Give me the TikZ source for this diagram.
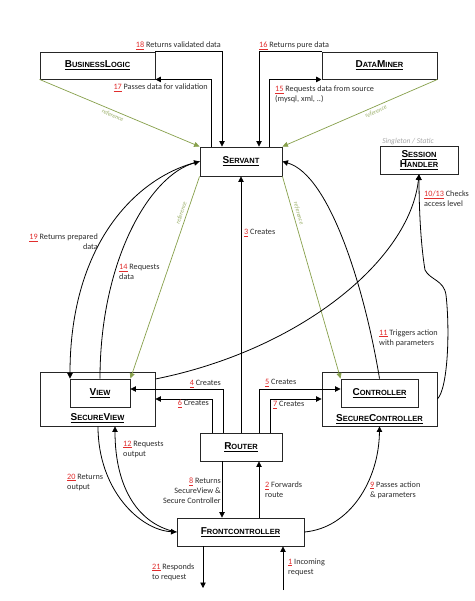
\documentclass[tikz,border=0pt]{standalone}
\usepackage{fontspec}
\setmainfont{Carlito}
\newfontfamily\titlefont{Liberation Sans}
\usetikzlibrary{arrows.meta,calc}
\definecolor{refgreen}{RGB}{135,160,75}
\definecolor{numred}{RGB}{225,45,45}
\definecolor{txt}{RGB}{45,45,45}
\newcommand{\nm}[1]{\textcolor{numred}{\underline{#1}}}
\newcommand{\Bg}[1]{{\fontsize{10}{10}\selectfont #1}}
\begin{document}
\begin{tikzpicture}[x=1pt,y=-1pt,
  box/.style={draw=black!85, line width=0.9pt, fill=white, inner sep=0pt,
    font=\titlefont\bfseries\fontsize{7.5}{10.5}\selectfont},
  ttl/.style={font=\titlefont\bfseries\fontsize{7.5}{8}\selectfont, inner sep=0pt},
  arr/.style={draw=black, line width=0.8pt, -{Triangle[length=5.5pt,width=5.5pt]}},
  ln/.style={draw=black, line width=0.8pt},
  refarr/.style={draw=refgreen, line width=0.7pt, -{Triangle[length=5.5pt,width=5pt]}},
  reflbl/.style={font=\itshape\fontsize{6}{6}\selectfont, text=refgreen!85, inner sep=2.5pt, sloped},
  lbl/.style={font=\fontsize{8.2}{10}\selectfont, text=txt, inner sep=0pt},
]
\fill[white] (0,0) rectangle (474,601);
\useasboundingbox (0,0) rectangle (474,601);

% boxes
\node[box, minimum width=115pt, minimum height=27pt] (bl) at (97.5,65.5) {\underline{\Bg{B}USINESS\Bg{L}OGIC}};
\node[box, minimum width=115pt, minimum height=27pt] (dm) at (379.5,65.5) {\underline{\Bg{D}ATA\Bg{M}INER}};
\node[box, minimum width=82pt, minimum height=29pt] (servant) at (241,161.5) {\underline{\Bg{S}ERVANT}};
\node[box, minimum width=78pt, minimum height=28pt, align=center] (sh) at (419,160) {\underline{\Bg{S}ESSION}\\\underline{\Bg{H}ANDLER}};
\node[font=\itshape\fontsize{7.5}{8}\selectfont, text=black!35, inner sep=0pt] (single) at (408,141.5) {Singleton / Static};

\node[box, minimum width=115pt, minimum height=54pt] (sv) at (97.5,399) {};
\node[box, minimum width=60pt, minimum height=28pt] (view) at (100,393) {\underline{\Bg{V}IEW}};
\node[ttl] (svt) at (97.5,418) {\underline{\Bg{S}ECURE\Bg{V}IEW}};

\node[box, minimum width=115pt, minimum height=54pt] (sc) at (379.5,399) {};
\node[box, minimum width=77pt, minimum height=28pt] (ctrl) at (379.5,393) {\underline{\Bg{C}ONTROLLER}};
\node[ttl] (sct) at (379.5,419) {\underline{\Bg{S}ECURE\Bg{C}ONTROLLER}};

\node[box, minimum width=82pt, minimum height=28pt] (router) at (241,447) {\underline{\Bg{R}OUTER}};
\node[box, minimum width=127pt, minimum height=28pt] (fc) at (240.5,532) {\underline{\Bg{F}RONTCONTROLLER}};

% top connectors
\draw[arr] (bl.north east) -| ([xshift=-19pt]servant.north);
\draw[arr] ([xshift=-30pt]servant.north) |- (bl.south east);
\draw[arr] (dm.north west) -| ([xshift=18pt]servant.north);
\draw[arr] ([xshift=28pt]servant.north) |- (dm.south west);

% references
\draw[refarr] (bl.south west) -- node[reflbl, pos=0.47, below] {reference} (servant.north west);
\draw[refarr] (dm.south east) -- node[reflbl, pos=0.41, below] {reference} (servant.north east);
\draw[refarr] (servant.south west) -- node[reflbl, pos=0.19, above] {reference} (view.north east);
\draw[refarr] (servant.south east) -- node[reflbl, pos=0.19, above] {reference} (ctrl.north west);

% router
\draw[arr] (router.north) -- (servant.south);
\draw[arr] ([xshift=-18pt]router.north) |- ([yshift=4pt]view.east);
\draw[arr] ([xshift=-29pt]router.north) |- (sv.east);
\draw[arr] ([xshift=18pt]router.north) |- ([yshift=4pt]ctrl.west);
\draw[arr] ([xshift=29pt]router.north) |- (sc.west);
\coordinate (r8) at ([xshift=-19pt]router.south);
\coordinate (r2) at ([xshift=18pt]router.south);
\draw[arr] (r8) -- (r8 |- fc.north);
\draw[arr] (r2 |- fc.north) -- (r2);

% frontcontroller in/out
\coordinate (in1) at (283,590);
\coordinate (out21) at (203,588);
\draw[arr] (in1) -- (in1 |- fc.south);
\draw[arr] (out21 |- fc.south) -- (out21);

% view <-> servant
\draw[arr] (servant.west) .. controls (140,175) and (70,240) .. ([xshift=-30pt]view.north);
\draw[arr] (view.north) .. controls (100,260) and (150,175) .. (servant.west);

% view <-> frontcontroller
\draw[arr] ([xshift=0.5pt]sv.south) .. controls (98,490) and (140,530) .. (fc.west);
\draw[arr] (fc.west) .. controls (140,525) and (115,490) .. ([xshift=17.5pt]sv.south);

% frontcontroller -> securecontroller
\draw[arr] (fc.east) .. controls (350,528) and (379,480) .. (sc.south);

% controller -> servant
\draw[arr] (ctrl.north) .. controls (365,290) and (330,175) .. (servant.east);

% session handler
\draw[arr] ([yshift=20pt]sv.east) .. controls (300,350) and (410,260) .. (sh.south);
\draw[arr] (sc.east) .. controls (448,388) and (450,330) .. (446,295)
  .. controls (444,280) and (430,280) .. (425,270)
  .. controls (420,240) and (419,200) .. (sh.south);

% labels
\node[lbl, anchor=east] (l18) at (221,46) {\nm{18} Returns validated data};
\node[lbl, anchor=east] (l17) at (208,88) {\nm{17} Passes data for validation};
\node[lbl, anchor=west] (l16) at (259,46) {\nm{16} Returns pure data};
\node[lbl, anchor=north west, align=left] (l15) at (275,86) {\nm{15} Requests data from source\\(mysql, xml, ..)};
\node[lbl, anchor=west] (l3) at (244,233) {\nm{3} Creates};
\node[lbl, anchor=east, align=right] (l19) at (98,242) {\nm{19} Returns prepared\\data};
\node[lbl, anchor=west, align=left] (l14) at (119,272) {\nm{14} Requests\\data};
\node[lbl, anchor=west, align=left] (l1013) at (424,199) {\nm{10/13} Checks\\access level};
\node[lbl, anchor=west, align=left] (l11) at (379,338) {\nm{11} Triggers action\\with parameters};
\node[lbl, anchor=east] (l4) at (221,384) {\nm{4} Creates};
\node[lbl, anchor=east] (l6) at (209,404) {\nm{6} Creates};
\node[lbl, anchor=west] (l5) at (265,383) {\nm{5} Creates};
\node[lbl, anchor=west] (l7) at (273,405) {\nm{7} Creates};
\node[lbl, anchor=west, align=left] (l12) at (123,449) {\nm{12} Requests\\output};
\node[lbl, anchor=west, align=left] (l20) at (67,482) {\nm{20} Returns\\output};
\node[lbl, anchor=east, align=right] (l8) at (221,491) {\nm{8} Returns\\SecureView \&\\Secure Controller};
\node[lbl, anchor=west, align=left] (l2) at (265,490) {\nm{2} Forwards\\route};
\node[lbl, anchor=west, align=left] (l9) at (370,490) {\nm{9} Passes action\\\& parameters};
\node[lbl, anchor=west, align=left] (l21) at (152,572) {\nm{21} Responds\\to request};
\node[lbl, anchor=west, align=left] (l1) at (288,567) {\nm{1} Incoming\\request};
\end{tikzpicture}
\end{document}
